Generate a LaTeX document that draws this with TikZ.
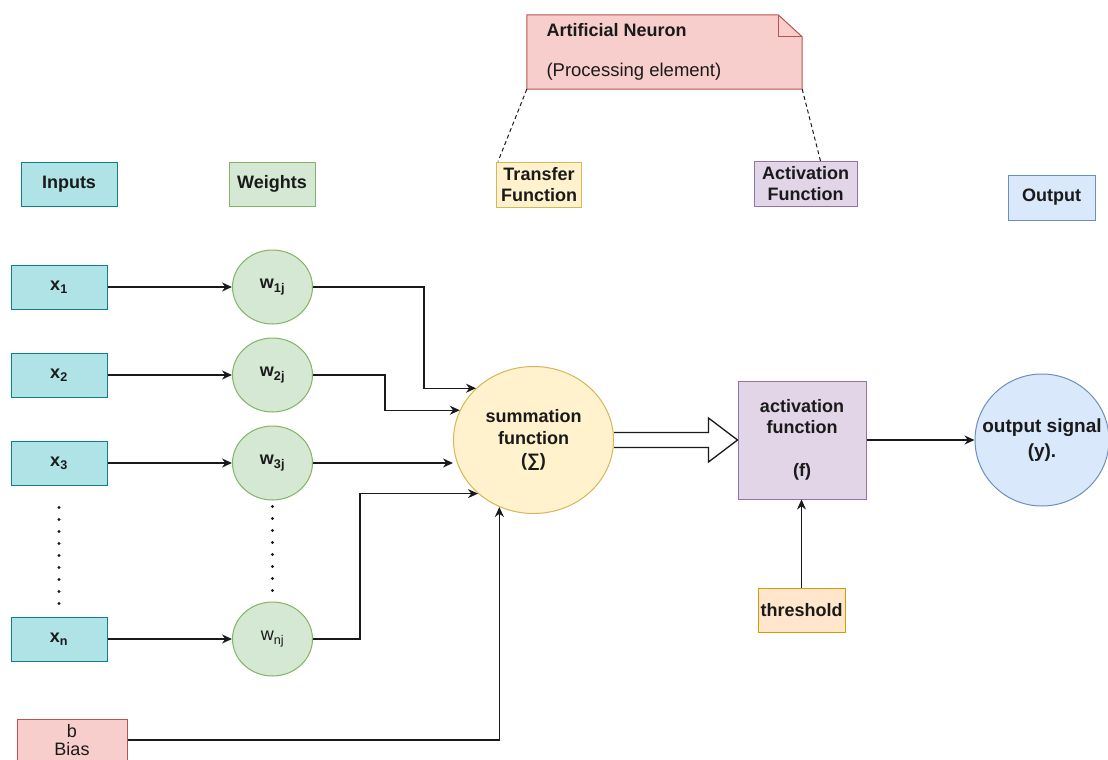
\documentclass[tikz,border=0pt]{standalone}
\usepackage{fontspec}
\setmainfont{Liberation Sans}
\usetikzlibrary{arrows.meta,positioning,calc,shapes.geometric}
\definecolor{ink}{RGB}{26,26,26}
\definecolor{inpfill}{RGB}{176,227,230}
\definecolor{inpdraw}{RGB}{14,128,136}
\definecolor{wfill}{RGB}{213,232,212}
\definecolor{wdraw}{RGB}{130,179,102}
\definecolor{redfill}{RGB}{248,206,204}
\definecolor{reddraw}{RGB}{184,84,80}
\definecolor{yelfill}{RGB}{255,242,204}
\definecolor{yeldraw}{RGB}{214,182,86}
\definecolor{purfill}{RGB}{225,213,231}
\definecolor{purdraw}{RGB}{150,115,166}
\definecolor{blufill}{RGB}{218,232,252}
\definecolor{bludraw}{RGB}{108,142,191}
\definecolor{orafill}{RGB}{255,230,204}
\definecolor{oradraw}{RGB}{215,155,0}
\tikzset{box/.style={draw,line width=1pt,inner sep=0pt,align=center,text=ink,
    font=\bfseries\fontsize{18}{21}\selectfont},
  inbox/.style={box,fill=inpfill,draw=inpdraw,minimum width=96pt,minimum height=44pt},
  wnode/.style={box,ellipse,fill=wfill,draw=wdraw,minimum width=80pt,minimum height=74pt},
  flow/.style={-{Stealth[length=10pt,width=9pt]},line width=1.3pt,ink},
  vdots/.style={line width=3.2pt,line cap=round,dash pattern=on 0pt off 12pt,ink},
  hint/.style={line width=1pt,dash pattern=on 4pt off 3pt,ink}}

\begin{document}
\begin{tikzpicture}[x=1pt, y=-1pt]
\useasboundingbox (0,0) rectangle (1108,760);
\clip (0,0) rectangle (1108,760);
% column heads
\node[inbox] (inputs) at (69,184) {Inputs};
\node[box,fill=wfill,draw=wdraw,minimum width=86pt,minimum height=44pt] (weights) at (272,184) {Weights};
\node[box,fill=yelfill,draw=yeldraw,minimum width=85pt,minimum height=45pt] (transfer) at (539,184.5) {Transfer\\Function};
\node[box,fill=purfill,draw=purdraw,minimum width=103pt,minimum height=45pt] (actlabel) at (805.5,184) {Activation\\Function};
\node[box,fill=blufill,draw=bludraw,minimum width=87pt,minimum height=45pt] (output) at (1051.5,197.5) {Output};
% note
\node[minimum width=275pt,minimum height=74pt,inner sep=0pt] (neuron) at (664.5,52) {};
\draw[fill=redfill,draw=reddraw,line width=1pt] (neuron.south west) -- (neuron.north west)
  -- ([xshift=-24pt]neuron.north east) -- ([yshift=-22pt]neuron.north east)
  -- (neuron.south east) -- cycle;
\draw[reddraw,line width=1pt] ([xshift=-24pt]neuron.north east) |- ([yshift=-22pt]neuron.north east);
\node[anchor=west,text=ink,font=\bfseries\fontsize{18}{21}\selectfont] (ntitle) at (543,30) {Artificial Neuron};
\node[anchor=west,text=ink,font=\fontsize{18.5}{21}\selectfont] (nsub) at (543,72) {(Processing element)};
\draw[hint] (neuron.south west) -- ([xshift=2pt]transfer.north west);
\draw[hint] (neuron.south east) -- ([xshift=15pt]actlabel.north);
% inputs and weights
\foreach \i/\y in {1/287,2/375,3/463} {
  \node[inbox] (x\i) at (59,\y) {x\textsubscript{\i}};
  \node[wnode] (w\i) at (272.5,\y) {w\textsubscript{\i j}};
  \draw[flow] (x\i) -- (w\i);
}
\node[inbox] (xn) at (59,639) {x\textsubscript{n}};
\node[wnode,font=\fontsize{18}{21}\selectfont] (wn) at (272.5,639) {w\textsubscript{nj}};
\draw[flow] (xn) -- (wn);
\draw[vdots] ([yshift=-22pt]x3.south) -- ([yshift=12pt]xn.north);
\draw[vdots] ([yshift=-6pt]w3.south) -- (wn.north);
% neuron body
\node[box,ellipse,fill=yelfill,draw=yeldraw,minimum width=160pt,minimum height=147pt,
  font=\bfseries\fontsize{18}{22}\selectfont] (sum) at (533.5,440) {summation\\function\\(∑)};
\node[box,fill=purfill,draw=purdraw,minimum width=128pt,minimum height=118pt] (act) at (802,440)
  {activation\\function\\[22pt](f)};
\node[box,ellipse,fill=blufill,draw=bludraw,minimum width=134pt,minimum height=132pt] (outsig) at (1042,440) {};
\node[align=center,text=ink,font=\bfseries\fontsize{19}{25}\selectfont] (outtxt) at (outsig) {output signal\\(y).};
\node[box,fill=orafill,draw=oradraw,minimum width=87pt,minimum height=44pt] (thresh) at (801.5,610) {threshold};
\node[box,fill=redfill,draw=reddraw,minimum width=110pt,minimum height=42pt,
  font=\fontsize{18}{18}\selectfont] (bias) at (72,740) {b\\Bias};
% connectors
\draw[flow] (w1.east) -- ++(111,0) |- (sum.138);
\draw[flow] (w2.east) -- ++(72,0) |- (sum.158);
\draw[flow] (w3.east) -- (w3.east -| sum.west);
\draw[flow] (wn.east) -- ++(47,0) |- (sum.224);
\draw[flow] (bias.east) -| (sum.243);
\draw[fill=white,draw=ink,line width=1.3pt] ($(sum.east)+(0,-7.5)$) -- ($(act.west)+(-29,-7.5)$)
  -- ($(act.west)+(-29,-22)$) -- (act.west) -- ($(act.west)+(-29,22)$)
  -- ($(act.west)+(-29,7.5)$) -- ($(sum.east)+(0,7.5)$);
\draw[flow] (act) -- (outsig);
\draw[flow] (thresh.north) -- (thresh.north |- act.south);
\end{tikzpicture}
\end{document}
